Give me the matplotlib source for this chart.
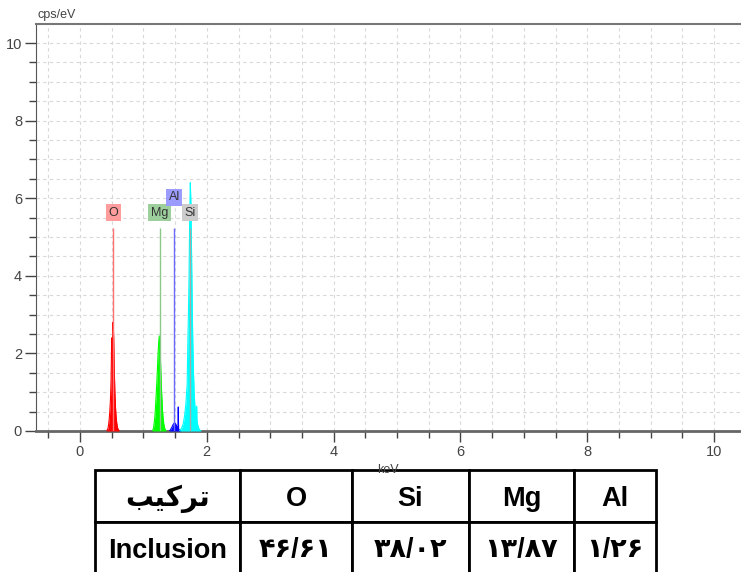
import matplotlib.pyplot as plt
import numpy as np
from matplotlib.ticker import MultipleLocator

# -------------------------
# Data
# -------------------------
o_kev = [0.42, 0.43, 0.44, 0.45, 0.46, 0.47, 0.48, 0.49, 0.50, 0.51, 0.52, 0.53,
         0.54, 0.55, 0.56, 0.57, 0.58, 0.59, 0.60, 0.61, 0.62]
o_cps = [0.0, 0.03, 0.06, 0.15, 0.3, 0.5, 0.8, 1.3, 2.4, 1.9, 2.8, 2.5,
         1.6, 1.0, 0.6, 0.35, 0.2, 0.1, 0.05, 0.02, 0.0]

mg_kev = [1.14, 1.15, 1.16, 1.17, 1.18, 1.19, 1.20, 1.21, 1.22, 1.23, 1.24, 1.25,
          1.26, 1.27, 1.28, 1.29, 1.30, 1.31, 1.32, 1.33, 1.34, 1.35, 1.36]
mg_cps = [0.0, 0.03, 0.08, 0.2, 0.35, 0.6, 0.9, 1.2, 1.55, 1.95, 2.25, 2.45,
          2.2, 1.8, 1.3, 0.9, 0.55, 0.35, 0.2, 0.1, 0.05, 0.02, 0.0]

al_kev = [1.41, 1.43, 1.45, 1.47, 1.49, 1.51, 1.53, 1.545, 1.55, 1.555, 1.56, 1.57, 1.59]
al_cps = [0.0, 0.04, 0.1, 0.17, 0.21, 0.18, 0.1, 0.05, 0.62, 0.05, 0.04, 0.02, 0.0]

si_kev = [1.57, 1.59, 1.61, 1.63, 1.65, 1.67, 1.69, 1.70, 1.71, 1.72, 1.73, 1.74,
          1.75, 1.76, 1.77, 1.78, 1.79, 1.80, 1.81, 1.82, 1.83, 1.835, 1.84, 1.845,
          1.85, 1.87, 1.89, 1.91]
si_cps = [0.0, 0.04, 0.1, 0.2, 0.4, 0.7, 1.2, 2.2, 3.0, 4.0, 5.5, 6.4,
          5.8, 4.5, 3.2, 2.2, 1.5, 1.0, 0.7, 0.5, 0.35, 0.3, 0.64, 0.28,
          0.2, 0.08, 0.02, 0.0]

# element markers
elements = ['O', 'Mg', 'Al', 'Si']
element_kev = [0.525, 1.254, 1.487, 1.740]
marker_height = 5.24

# table
table_header = ['\ufe90\ufbff\ufb90\ufeae\ufe97', 'O', 'Si', 'Mg', 'Al']  # ترکیب (shaped)
table_row = ['Inclusion', '۴۶/۶۱', '۳۸/۰۲', '۱۳/۸۷', '۱/۲۶']

# -------------------------
# Styling
# -------------------------
fill_colors = {'O': '#ff0000', 'Mg': '#00ff00', 'Al': '#0000ff', 'Si': '#00ffff'}
line_colors = {'O': '#ff7070', 'Mg': '#8cc88c', 'Al': '#6a6aff', 'Si': '#a8a8a8'}
box_colors = {'O': '#ff9c9c', 'Mg': '#9ccf9c', 'Al': '#9c9cff', 'Si': '#cccccc'}
label_y = {'O': 5.62, 'Mg': 5.62, 'Al': 6.03, 'Si': 5.62}
label_dx = {'O': 0.0, 'Mg': 0.0, 'Al': 0.0, 'Si': 0.0}

W, H = 741, 572
fig = plt.figure(figsize=(W / 100, H / 100), dpi=100)
ax = fig.add_axes([36 / W, (H - 431) / H, (740 - 36) / W, (431 - 24) / H])

spectra = {'O': (o_kev, o_cps), 'Mg': (mg_kev, mg_cps),
           'Al': (al_kev, al_cps), 'Si': (si_kev, si_cps)}
for name, (xs, ys) in spectra.items():
    ax.fill_between(xs, 0, ys, color=fill_colors[name], linewidth=0, zorder=3)
    ax.plot(xs, ys, color=fill_colors[name], linewidth=0.8, zorder=3)

for name, e in zip(elements, element_kev):
    ax.vlines(e, 0, marker_height, color=line_colors[name], linewidth=1, zorder=4)
    ax.text(e + label_dx[name], label_y[name], name, ha='center', va='center',
            fontsize=9, color='#333333', family='Liberation Sans', zorder=5,
            bbox=dict(boxstyle='square,pad=0.2', facecolor=box_colors[name],
                      edgecolor='none'))

ax.set_xlim(-0.694, 10.41)
ax.set_ylim(0, 10.49)
ax.xaxis.set_major_locator(MultipleLocator(2))
ax.xaxis.set_minor_locator(MultipleLocator(0.5))
ax.yaxis.set_major_locator(MultipleLocator(2))
ax.yaxis.set_minor_locator(MultipleLocator(0.5))
ax.grid(which='both', color='#d8d8d8', linestyle=(0, (3, 3)), linewidth=0.8, zorder=0)
ax.set_axisbelow(True)

ax.spines['right'].set_visible(False)
ax.spines['top'].set_color('#777777')
ax.spines['top'].set_linewidth(1.5)
ax.spines['left'].set_color('#555555')
ax.spines['bottom'].set_color('#666666')
ax.spines['bottom'].set_linewidth(2)

ax.tick_params(which='major', length=8, width=1, color='#444444', labelsize=10.5,
               labelcolor='#444444', pad=2)
ax.tick_params(which='minor', length=5, width=1, color='#444444')
for lab in ax.get_xticklabels() + ax.get_yticklabels():
    lab.set_family(['Liberation Sans Narrow', 'Liberation Sans'])

fig.text(37 / W, 1 - 15 / H, 'cps/eV', fontsize=9, color='#444444',
         family='Liberation Sans', va='center', ha='left')
fig.text(388 / W, 1 - 470 / H, 'keV', fontsize=9, color='#444444',
         family='Liberation Sans', va='center', ha='center')

# -------------------------
# Composition table
# -------------------------
tax = fig.add_axes([94.5 / W, (H - 573.5) / H, (656 - 94.5) / W, (573.5 - 469.5) / H])
tax.set_facecolor('white')
tax.set_xticks([])
tax.set_yticks([])
for s in tax.spines.values():
    s.set_visible(False)
col_w = np.array([145.5, 112, 117, 105, 82])
tbl = tax.table(cellText=[table_header, table_row], colWidths=col_w / col_w.sum(),
                cellLoc='center', bbox=[0, 0, 1, 1])
tbl.auto_set_font_size(False)
for (r, c), cell in tbl.get_celld().items():
    cell.set_edgecolor('black')
    cell.set_linewidth(2)
    txt = cell.get_text()
    txt.set_fontsize(19.5 if not (r == 0 and c == 0) else 20)
    txt.set_fontweight('bold')
    txt.set_family(['Liberation Sans', 'DejaVu Sans'])
    txt.set_va('center_baseline')

fig.savefig('out.png', dpi=100)
